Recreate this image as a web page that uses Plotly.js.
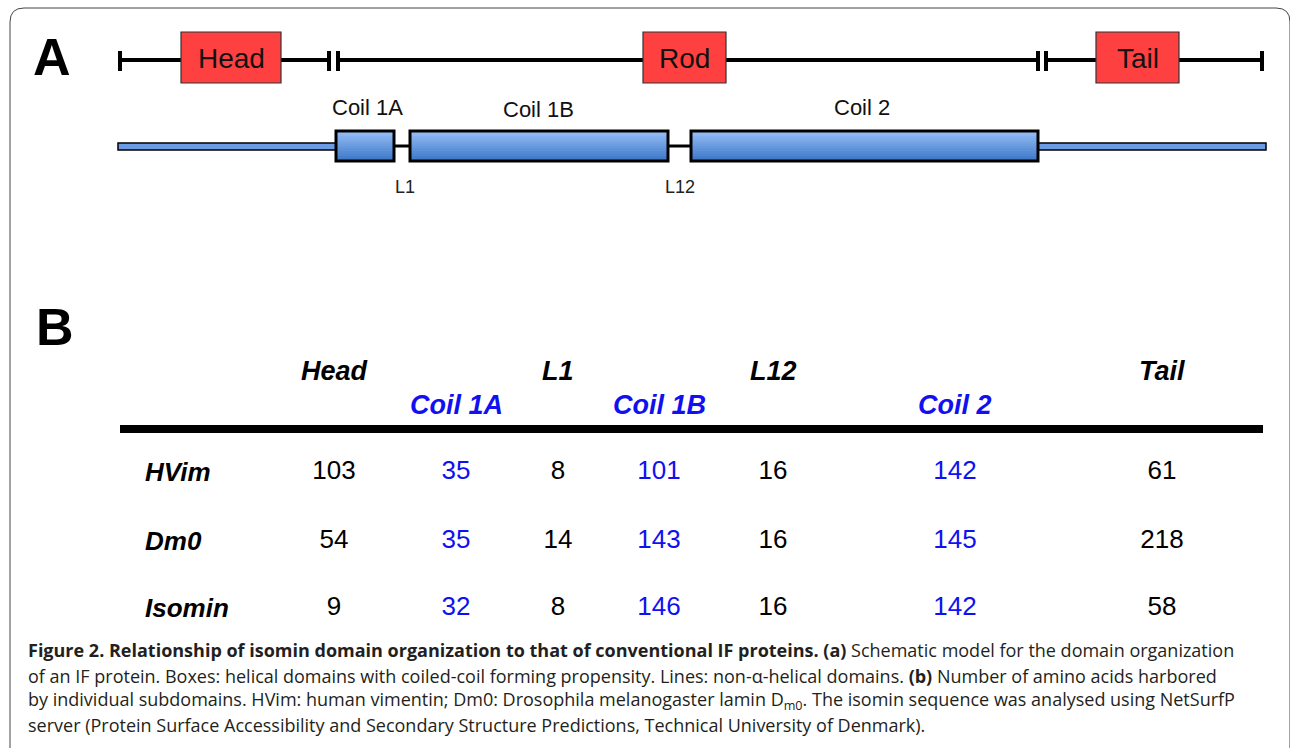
<!DOCTYPE html>
<html>
<head>
<meta charset="utf-8">
<script src="https://cdn.plot.ly/plotly-3.0.1.min.js"></script>
<style>html,body{margin:0;padding:0;background:#fff;}#chart{width:1290px;height:748px;}</style>
</head>
<body>
<div id="chart"></div>
<script>
// ---------- DATA ----------
const regionNames = ['Head', 'Rod', 'Tail'];
const coilNames = ['Coil 1A', 'Coil 1B', 'Coil 2'];
const linkerNames = ['L1', 'L12'];
const domainNames = ['Head', 'Coil 1A', 'L1', 'Coil 1B', 'L12', 'Coil 2', 'Tail'];
const helical = [false, true, false, true, false, true, false];
const rowNames = ['HVim', 'Dm0', 'Isomin'];
const hvimValues = [103, 35, 8, 101, 16, 142, 61];
const dm0Values = [54, 35, 14, 143, 16, 145, 218];
const isominValues = [9, 32, 8, 146, 16, 142, 58];
const tableValues = [hvimValues, dm0Values, isominValues];

// ---------- LAYOUT CONSTANTS ----------
const W = 1290, H = 748;
const ARIAL = 'Arial, "Liberation Sans", sans-serif';
const CAP = '"Open Sans", "Noto Sans", sans-serif';
const BLUE_TXT = '#1010F0';
const colX = [334, 456, 558, 659, 773, 955, 1162];
const rowY = [472, 541, 608];
const hdrY = [371, 405];
const regionBox = [[181, 281], [643, 726], [1096, 1179]];
const coilBox = [[336, 394], [410, 668], [691, 1038]];
const coilLabelPos = [[367, 107], [538, 109], [862, 107]];
const linkerPos = [[405, 187], [680, 187]];

const shapes = [];
const annotations = [];

// border (rounded frame)
shapes.push({type: 'path', xref: 'x', yref: 'y',
  path: 'M 10,770 L 10,22 Q 10,8 24,8 L 1276,8 Q 1290,8 1290,22 L 1290,770',
  line: {color: '#444', width: 1}, fillcolor: 'rgba(0,0,0,0)'});

function line(x0, y0, x1, y1, w, c) {
  shapes.push({type: 'line', xref: 'x', yref: 'y', x0, y0, x1, y1, line: {color: c || '#000', width: w}});
}
function rect(x0, y0, x1, y1, fill, lc, lw) {
  shapes.push({type: 'rect', xref: 'x', yref: 'y', x0, y0, x1, y1, fillcolor: fill,
    line: {color: lc || 'rgba(0,0,0,0)', width: lw || 0}});
}
function text(t, x, y, size, color, opts) {
  annotations.push(Object.assign({xref: 'x', yref: 'y', x, y, text: t, showarrow: false,
    xanchor: 'center', yanchor: 'middle', font: {family: ARIAL, size, color}}, opts || {}));
}

// ---------- PANEL A ----------
text('<b>A</b>', 52, 57, 52, '#000');
const lineY = 60;
line(119, lineY, 328, lineY, 4);
line(339, lineY, 1039, lineY, 4);
line(1046, lineY, 1262, lineY, 4);
[120, 329, 338, 1038, 1046, 1262].forEach(x => line(x, 51, x, 71, 4));
regionNames.forEach((n, i) => {
  const [x0, x1] = regionBox[i];
  rect(x0, 32, x1, 83, '#FF4040', '#333', 1.2);
  text(n, (x0 + x1) / 2, 58, 28, '#111');
});

// coil row
const cy0 = 131, cy1 = 161;
rect(118, 143, 336, 150, '#6C9BE6', '#000', 1.5);
rect(1038, 143, 1266, 150, '#6C9BE6', '#000', 1.5);
line(394, 146, 410, 146, 3);
line(668, 146, 691, 146, 3);
const gradTop = [148, 190, 246], gradBot = [62, 120, 200];
const nStrips = 12;
coilBox.forEach(([x0, x1], i) => {
  for (let s = 0; s < nStrips; s++) {
    const t = s / (nStrips - 1);
    const c = gradTop.map((v, k) => Math.round(v + (gradBot[k] - v) * t));
    const ya = cy0 + (cy1 - cy0) * s / nStrips, yb = cy0 + (cy1 - cy0) * (s + 1) / nStrips;
    rect(x0, ya, x1, yb + 0.5, 'rgb(' + c.join(',') + ')');
  }
  rect(x0, cy0, x1, cy1, 'rgba(0,0,0,0)', '#000', 3);
  text(coilNames[i], coilLabelPos[i][0], coilLabelPos[i][1], 22, '#111');
});
linkerNames.forEach((n, i) => text(n, linkerPos[i][0], linkerPos[i][1], 18, '#222'));

// ---------- PANEL B ----------
text('<b>B</b>', 55, 327, 52, '#000');
domainNames.forEach((n, i) => {
  text('<b><i>' + n + '</i></b>', colX[i], helical[i] ? hdrY[1] : hdrY[0], 27, helical[i] ? BLUE_TXT : '#000');
});
rect(120, 425, 1263, 433, '#000');
rowNames.forEach((n, r) => text('<b><i>' + n + '</i></b>', 143, rowY[r], 26, '#000', {xanchor: 'left'}));

const traces = tableValues.map((vals, r) => ({
  type: 'scatter', mode: 'text', x: colX, y: colX.map(() => rowY[r]),
  text: vals.map(String), textposition: 'middle center', hoverinfo: 'skip',
  textfont: {family: ARIAL, size: 26, color: helical.map(h => h ? BLUE_TXT : '#000')},
  showlegend: false
}));

// ---------- CAPTION ----------
const capLines = [
  '<b>Figure 2. Relationship of isomin domain organization to that of conventional IF proteins. (a)</b> Schematic model for the domain organization',
  'of an IF protein. Boxes: helical domains with coiled-coil forming propensity. Lines: non-α-helical domains. <b>(b)</b> Number of amino acids harbored',
  'by individual subdomains. HVim: human vimentin; Dm0: Drosophila melanogaster lamin D<sub>m0</sub>. The isomin sequence was analysed using NetSurfP',
  'server (Protein Surface Accessibility and Secondary Structure Predictions, Technical University of Denmark).'
];
const capY = [650, 676, 700, 725];
capLines.forEach((t, i) => annotations.push({xref: 'x', yref: 'y', x: 26, y: capY[i], text: t,
  showarrow: false, xanchor: 'left', yanchor: 'middle', font: {family: CAP, size: 18, color: '#231F20'}}));

const layout = {
  width: W, height: H, margin: {l: 0, r: 0, t: 0, b: 0},
  paper_bgcolor: '#fff', plot_bgcolor: '#fff', showlegend: false,
  xaxis: {range: [0, W], visible: false, fixedrange: true},
  yaxis: {range: [H, 0], visible: false, fixedrange: true},
  shapes, annotations
};
Plotly.newPlot('chart', traces, layout, {staticPlot: true, displayModeBar: false});
</script>
</body>
</html>
